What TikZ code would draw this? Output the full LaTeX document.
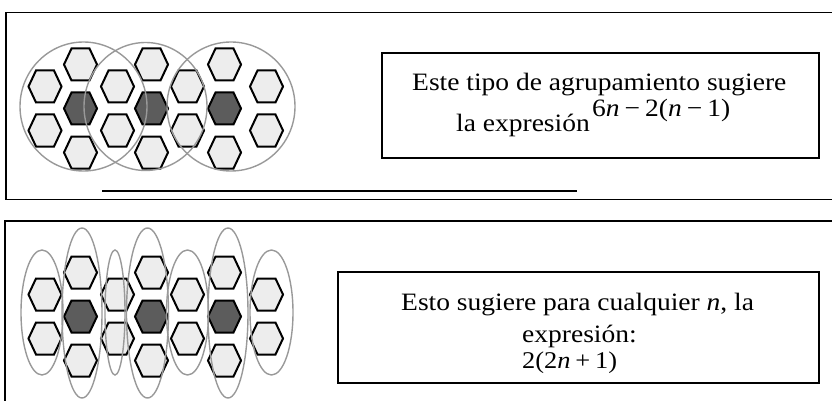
\documentclass[tikz,border=0pt]{standalone}
\usepackage{fontspec}
\setmainfont[FakeStretch=1.1]{Liberation Serif}
\definecolor{hexlight}{gray}{0.93}
\definecolor{hexdark}{gray}{0.36}
\definecolor{ringgray}{gray}{0.60}
\newcommand\opsp{\hspace{0.2em}}
\tikzset{
  frame/.style={draw=black, line width=1.8pt},
  textbox/.style={draw=black, line width=1.6pt, inner sep=0pt},
  hexline/.style={draw=black, line width=2pt, line join=miter},
  ring/.style={draw=ringgray, line width=1.4pt},
  txt/.style={inner sep=0pt, anchor=base west, font=\fontsize{25}{29}\selectfont},
  eqtxt/.style={inner sep=0pt, anchor=base west, font=\fontsize{24}{28}\selectfont},
  pics/hexl/.style={code={\draw[hexline, fill=hexlight] (-16.5,0) -- (-9,-16) -- (9,-16) -- (16.5,0) -- (9,16) -- (-9,16) -- cycle;}},
  pics/hexd/.style={code={\draw[hexline, fill=hexdark] (-16.5,0) -- (-9,-16) -- (9,-16) -- (16.5,0) -- (9,16) -- (-9,16) -- cycle;}}
}
\begin{document}
\begin{tikzpicture}[x=1pt, y=-1pt]
\useasboundingbox (0,0) rectangle (832,401);
\begin{scope}
\clip (0,0) rectangle (832,401);
% frames
\draw[frame] (845,12.5) -- (6,12.5) -- (6,199.5) -- (845,199.5);
\draw[frame] (845,221) -- (5,221) -- (5,410);
\draw[frame] (102,191) -- (577,191);

% hexagons, both panels
\foreach \dy in {0,208}{
  \foreach \x in {80.5,151.5,224.5}{
    \pic at (\x,64.5+\dy) {hexl};
    \pic at (\x,108.5+\dy) {hexd};
    \pic at (\x,152.5+\dy) {hexl};
  }
  \foreach \x in {45,117.5,187.5,266.5}{
    \pic at (\x,86.5+\dy) {hexl};
    \pic at (\x,130.5+\dy) {hexl};
  }
}

% circles (top)
\draw[ring] (83.5,106.5) ellipse [x radius=63.5, y radius=64.5];
\draw[ring] (145.5,106.5) ellipse [x radius=61.5, y radius=64];
\draw[ring] (231,106.5) ellipse [x radius=64, y radius=64.5];

% ellipses (bottom)
\draw[ring] (42,312.5) ellipse [x radius=21, y radius=62.5];
\draw[ring] (82,313) ellipse [x radius=20, y radius=85];
\draw[ring] (115,312.5) ellipse [x radius=10, y radius=62.5];
\draw[ring] (147.5,313) ellipse [x radius=21, y radius=85];
\draw[ring] (187.5,312.5) ellipse [x radius=21, y radius=62.5];
\draw[ring] (228,313) ellipse [x radius=20, y radius=85];
\draw[ring] (271.5,312.5) ellipse [x radius=21.5, y radius=62.5];
\end{scope}

% text boxes
\node[textbox, minimum width=437pt, minimum height=105pt] (box1) at (600.5,105.5) {};
\node[textbox, minimum width=481pt, minimum height=111pt] (box2) at (578.5,327.5) {};

\node[txt] (t1) at (412,91) {Este tipo de agrupamiento sugiere};
\node[txt] (t2) at (456,131.5) {la expresión};
\node[txt] (t3) at (592,117) {6\textit{n}\opsp−\opsp2(\textit{n}\opsp−\opsp1)};

\node[txt] (u1) at (401,310) {Esto sugiere para cualquier \textit{n}, la};
\node[txt] (u2) at (522,342) {expresión:};
\node[eqtxt] (u3) at (522,368) {2(2\textit{n}\opsp+\opsp1)};
\end{tikzpicture}
\end{document}
